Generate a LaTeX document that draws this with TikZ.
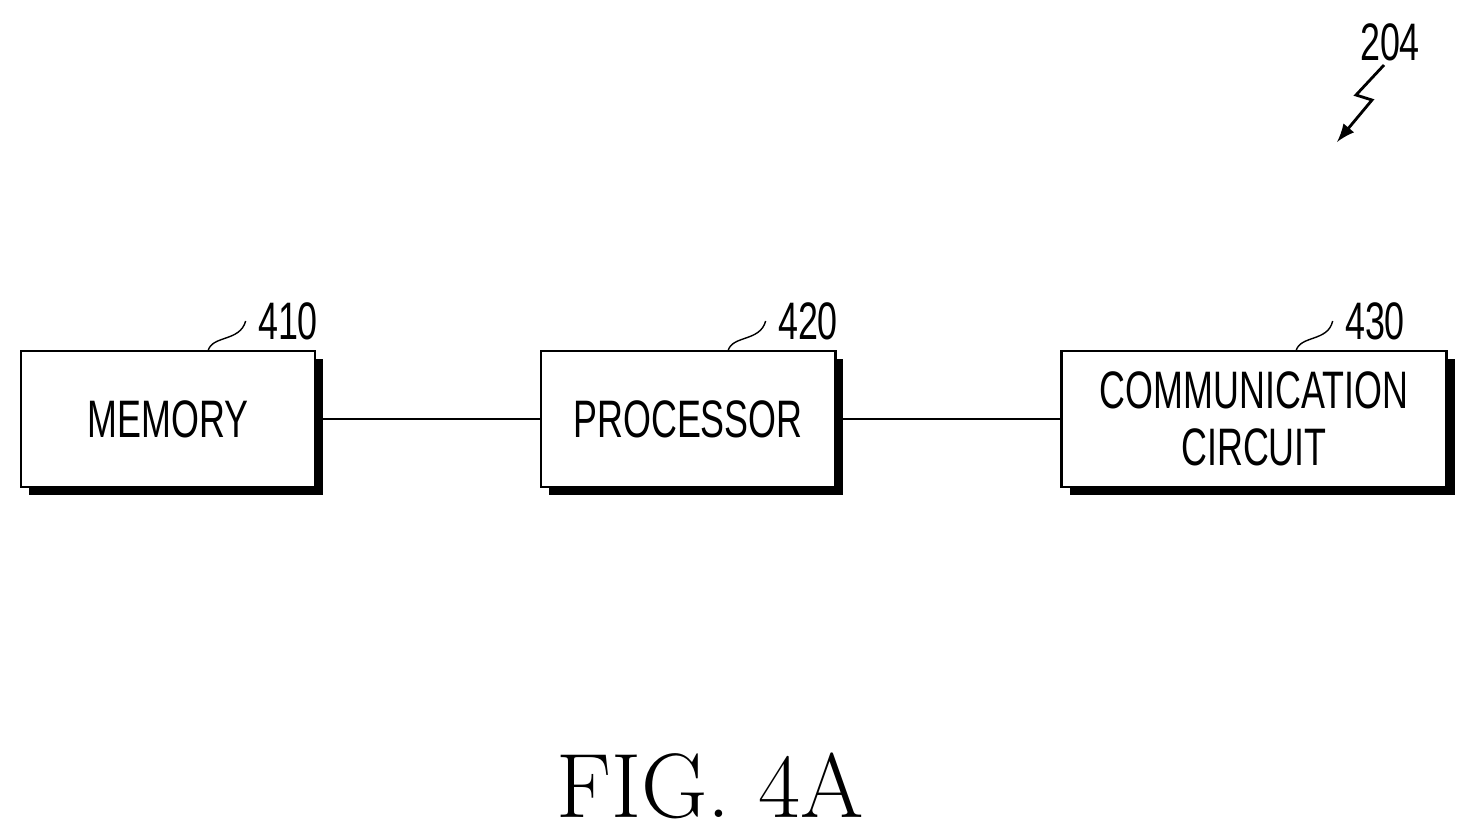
\documentclass[tikz,border=0pt]{standalone}
\usepackage{fontspec}
\setsansfont[FakeStretch=0.68]{Liberation Sans}
\usetikzlibrary{positioning,decorations.pathmorphing}
\begin{document}
\begin{tikzpicture}[x=0.01cm,y=-0.01cm,>=latex,
    block/.style={draw,thick,fill=white,minimum height=1.36cm,align=center,
      font=\sffamily\fontsize{15}{16.2}\selectfont},
    shadow/.style={fill=black},
    lbl/.style={font=\sffamily\fontsize{15}{18}\selectfont},
    leader/.style={thin}]
  \useasboundingbox (0,0) rectangle (1476,835);

  % shadows
  \fill[shadow] (29,359) rectangle (323,495);
  \fill[shadow] (549,359) rectangle (843,495);
  \fill[shadow] (1070,359) rectangle (1455,495);

  \node[block,minimum width=2.94cm] (mem)  at (168,419)  {MEMORY};
  \node[block,minimum width=2.94cm] (proc) at (688,419)  {PROCESSOR};
  \node[block,minimum width=3.85cm] (comm) at (1254,419) {COMMUNICATION\\CIRCUIT};

  \draw (mem) -- (proc);
  \draw (proc) -- (comm);

  % reference labels
  \node[lbl] (l410) at (288,321) {410};
  \node[lbl] (l420) at (808,321) {420};
  \node[lbl] (l430) at (1375,321) {430};
  \draw[leader] (208,351) .. controls (212,335) and (240,342) .. (l410.west);
  \draw[leader] (728,351) .. controls (732,335) and (760,342) .. (l420.west);
  \draw[leader] (1296,351) .. controls (1300,335) and (1328,342) .. (l430.west);

  \node[lbl] (l204) at (1390,42) {204};
  \coordinate (tip) at (1337,142);
  \draw[->,thick] (1384,65) -- (1356,95) -- (1372,100) -- (tip);

  \node[font=\fontsize{26}{30}\selectfont] (cap) at (710,786) {FIG. 4A};
\end{tikzpicture}
\end{document}
